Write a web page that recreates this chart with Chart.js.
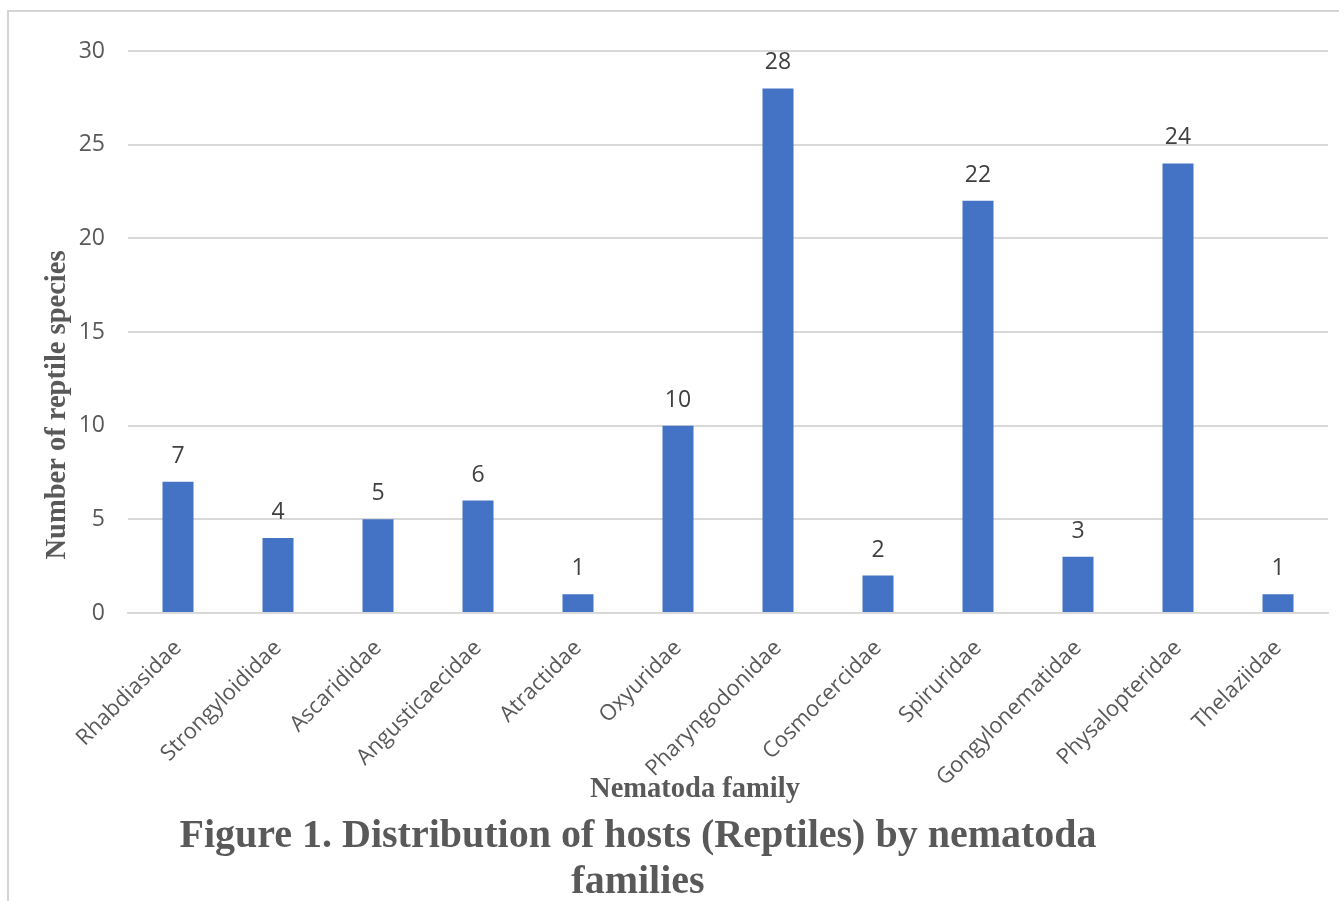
<!DOCTYPE html>
<html>
<head>
<meta charset="utf-8">
<script src="https://cdn.jsdelivr.net/npm/chart.js@4.4.1/dist/chart.umd.min.js"></script>
<style>
  html, body { margin: 0; padding: 0; background: #ffffff; }
  #wrap { position: relative; width: 1339px; height: 901px; }
</style>
</head>
<body>
<div id="wrap"><canvas id="chart" width="1339" height="901"></canvas></div>
<script>
// Nematoda families and the number of reptile host species for each
const families = [
  'Rhabdiasidae', 'Strongyloididae', 'Ascarididae', 'Angusticaecidae',
  'Atractidae', 'Oxyuridae', 'Pharyngodonidae', 'Cosmocercidae',
  'Spiruridae', 'Gongylonematidae', 'Physalopteridae', 'Thelaziidae'
];
const hostCounts = [7, 4, 5, 6, 1, 10, 28, 2, 22, 3, 24, 1];
const yTicks = [0, 5, 10, 15, 20, 25, 30];

const xTitle = 'Nematoda family';
const yTitle = 'Number of reptile species';
const captionLines = ['Figure 1. Distribution of hosts (Reptiles) by nematoda', 'families'];

const sansFamily = "'Open Sans', 'Liberation Sans', sans-serif";
const valueFont = { family: sansFamily, size: 23 };
const categoryFont = { family: sansFamily, size: 22 };
const serifBold = "bold {size}px 'Liberation Serif', 'DejaVu Serif', serif";

// Frame lines, value labels, axis titles and figure caption
const decorations = {
  id: 'decorations',
  beforeDraw(chart) {
    const ctx = chart.ctx;
    ctx.save();
    ctx.fillStyle = '#ffffff';
    ctx.fillRect(0, 0, chart.width, chart.height);
    ctx.strokeStyle = '#d4d4d4';
    ctx.lineWidth = 2;
    ctx.beginPath();
    ctx.moveTo(8, chart.height);
    ctx.lineTo(8, 11);
    ctx.lineTo(chart.width, 11);
    ctx.stroke();
    ctx.restore();
  },
  afterDatasetsDraw(chart) {
    const ctx = chart.ctx;
    const meta = chart.getDatasetMeta(0);
    ctx.save();
    ctx.font = `${valueFont.size}px ${valueFont.family}`;
    ctx.fillStyle = '#404040';
    ctx.textAlign = 'center';
    ctx.textBaseline = 'alphabetic';
    meta.data.forEach((bar, i) => {
      ctx.fillText(String(hostCounts[i]), bar.x, bar.y - 19);
    });
    ctx.restore();
  },
  afterDraw(chart) {
    const ctx = chart.ctx;
    ctx.save();
    ctx.fillStyle = '#595959';
    ctx.textAlign = 'center';
    ctx.textBaseline = 'alphabetic';

    // x-axis title
    ctx.font = serifBold.replace('{size}', 28.5);
    ctx.fillText(xTitle, 695, 797);

    // y-axis title
    ctx.save();
    ctx.translate(65, 405);
    ctx.rotate(-Math.PI / 2);
    ctx.fillText(yTitle, 0, 0);
    ctx.restore();

    // caption
    ctx.font = serifBold.replace('{size}', 40);
    ctx.fillText(captionLines[0], 638, 847);
    ctx.fillText(captionLines[1], 638, 893);
    ctx.restore();
  }
};

new Chart(document.getElementById('chart'), {
  type: 'bar',
  data: {
    labels: families,
    datasets: [{
      data: hostCounts,
      backgroundColor: '#4472C4',
      borderWidth: 0,
      categoryPercentage: 1,
      barPercentage: 0.31
    }]
  },
  options: {
    responsive: false,
    animation: false,
    devicePixelRatio: 1,
    layout: { padding: { left: 0, top: 51, right: 11, bottom: 0 } },
    plugins: {
      legend: { display: false },
      tooltip: { enabled: false },
      title: { display: false }
    },
    scales: {
      x: {
        grid: { display: false, drawTicks: false },
        border: { display: true, color: '#d9d9d9', width: 2 },
        ticks: {
          color: '#595959',
          font: categoryFont,
          maxRotation: 45,
          minRotation: 45,
          autoSkip: false,
          padding: 22
        },
        afterFit(scale) { scale.height = 288; }
      },
      y: {
        min: 0,
        max: 30,
        afterBuildTicks(scale) { scale.ticks = yTicks.map(v => ({ value: v })); },
        grid: { color: '#d9d9d9', lineWidth: 2, drawTicks: false },
        border: { display: false },
        ticks: {
          color: '#595959',
          font: valueFont,
          padding: 23
        },
        afterFit(scale) { scale.width = 128; }
      }
    }
  },
  plugins: [decorations]
});
</script>
</body>
</html>
